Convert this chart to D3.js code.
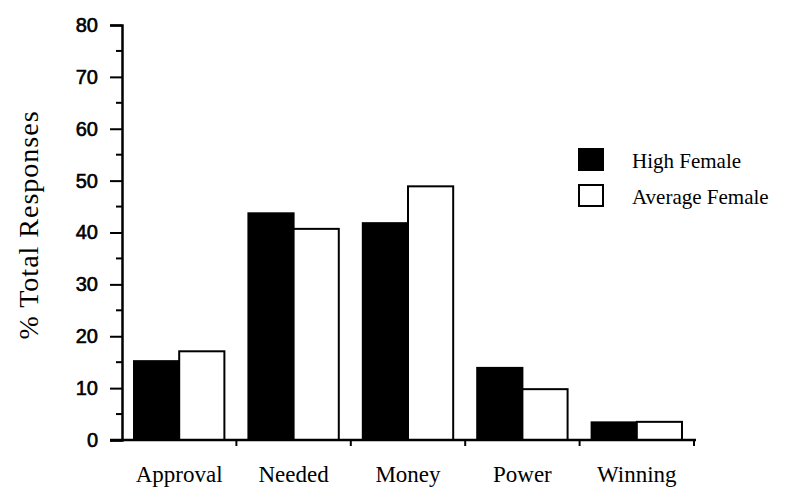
<!DOCTYPE html>
<html>
<head>
    <title>Responses by group</title>
    <script src="https://d3js.org/d3.v7.min.js"></script>
    <style>
        body { margin: 0; background: #fff; }
        .serif { font-family: "Liberation Serif", "Times New Roman", serif; }
        .sans { font-family: "Liberation Sans", Arial, sans-serif; }
    </style>
</head>
<body>
    <div id="chart"></div>
    <script>
const categories = ['Approval', 'Needed', 'Money', 'Power', 'Winning'];
const seriesNames = ['High Female', 'Average Female'];
const highFemale = [15.2, 43.7, 41.8, 13.9, 3.4];
const averageFemale = [17.1, 40.7, 48.9, 9.8, 3.5];
const yTicks = [0, 10, 20, 30, 40, 50, 60, 70, 80];

const width = 801;
const height = 497;
const margin = { left: 122, right: 107, top: 25, bottom: 57 };

const svg = d3.select('#chart')
    .append('svg')
    .attr('width', width)
    .attr('height', height);

const x = d3.scaleBand()
    .domain(categories)
    .range([margin.left, width - margin.right])
    .paddingInner(0.21)
    .paddingOuter(0.105);

const xSub = d3.scaleBand()
    .domain(seriesNames)
    .range([0, x.bandwidth()]);

const y = d3.scaleLinear()
    .domain([0, 80])
    .range([height - margin.bottom, margin.top]);

const color = d3.scaleOrdinal()
    .domain(seriesNames)
    .range(['#000', '#fff']);

// bars
const rows = categories.map((c, i) => ({
    category: c,
    values: [
        { series: seriesNames[0], value: highFemale[i] },
        { series: seriesNames[1], value: averageFemale[i] }
    ]
}));

svg.append('g')
    .selectAll('g')
    .data(rows)
    .enter()
    .append('g')
    .attr('transform', d => `translate(${x(d.category)},0)`)
    .selectAll('rect')
    .data(d => d.values)
    .enter()
    .append('rect')
    .attr('x', d => xSub(d.series))
    .attr('y', d => y(d.value))
    .attr('width', xSub.bandwidth())
    .attr('height', d => y(0) - y(d.value))
    .attr('fill', d => color(d.series))
    .attr('stroke', '#000')
    .attr('stroke-width', 2);

// y axis
const yAxis = svg.append('g')
    .attr('transform', `translate(${margin.left},0)`)
    .call(d3.axisLeft(y).tickValues(yTicks).tickSize(12).tickPadding(12))
    .call(g => g.select('.domain').attr('stroke-width', 2.5))
    .call(g => g.selectAll('.tick line').attr('stroke-width', 2));

yAxis.selectAll('text')
    .attr('class', 'sans')
    .attr('font-size', 20)
    .attr('fill', '#000')
    .attr('stroke', '#000')
    .attr('stroke-width', 0.6);

yAxis.selectAll('.minor')
    .data(d3.range(5, 80, 10))
    .enter()
    .append('line')
    .attr('class', 'minor')
    .attr('x1', -6)
    .attr('x2', 0)
    .attr('y1', d => y(d))
    .attr('y2', d => y(d))
    .attr('stroke', '#000')
    .attr('stroke-width', 2);

// x axis
const xAxis = svg.append('g')
    .attr('transform', `translate(0,${y(0)})`);

xAxis.append('line')
    .attr('x1', margin.left - 12)
    .attr('x2', width - margin.right + 2)
    .attr('stroke', '#000')
    .attr('stroke-width', 2.5);

const step = x.step();
xAxis.selectAll('.sep')
    .data(categories.slice(1).concat(['end']))
    .enter()
    .append('line')
    .attr('x1', (d, i) => margin.left + step * (i + 1))
    .attr('x2', (d, i) => margin.left + step * (i + 1))
    .attr('y1', 0)
    .attr('y2', 6)
    .attr('stroke', '#000')
    .attr('stroke-width', 2);

xAxis.selectAll('text')
    .data(categories)
    .enter()
    .append('text')
    .attr('class', 'serif')
    .attr('x', d => x(d) + x.bandwidth() / 2)
    .attr('y', 42)
    .attr('text-anchor', 'middle')
    .attr('font-size', 23)
    .text(d => d);

// y label
svg.append('text')
    .attr('class', 'serif')
    .attr('transform', `translate(38,225) rotate(-90)`)
    .attr('text-anchor', 'middle')
    .attr('font-size', 28)
    .attr('letter-spacing', 1)
    .text('% Total Responses');

// legend
const legend = svg.append('g')
    .attr('transform', 'translate(579,149)');

const item = legend.selectAll('g')
    .data(seriesNames)
    .enter()
    .append('g')
    .attr('transform', (d, i) => `translate(0,${i * 36})`);

item.append('rect')
    .attr('width', 24)
    .attr('height', 21)
    .attr('fill', d => color(d))
    .attr('stroke', '#000')
    .attr('stroke-width', 2);

item.append('text')
    .attr('class', 'serif')
    .attr('x', 53)
    .attr('y', 19)
    .attr('font-size', 21)
    .text(d => d);
    </script>
</body>
</html>
